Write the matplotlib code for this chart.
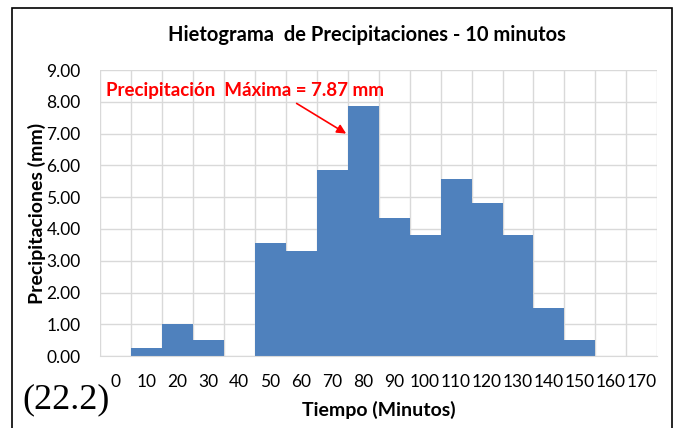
import matplotlib.pyplot as plt
from matplotlib.patches import Rectangle

tiempos = [0, 10, 20, 30, 40, 50, 60, 70, 80, 90, 100, 110, 120, 130, 140, 150, 160, 170]
precip = [0, 0.27, 1.00, 0.52, 0, 3.55, 3.30, 5.86, 7.87, 4.34, 3.82, 5.58, 4.81, 3.82, 1.51, 0.52, 0, 0]
yticks = [0, 1, 2, 3, 4, 5, 6, 7, 8, 9]

plt.rcParams['font.family'] = ['Lato', 'DejaVu Sans']

fig = plt.figure(figsize=(6.78, 4.28), dpi=100)
ax = fig.add_axes([0.1475, 0.168, 0.822, 0.6684])

pos = list(range(len(tiempos)))
ax.bar(pos, precip, width=1.0, color="#4f81bd", zorder=2)
ax.set_xlim(-0.5, len(tiempos) - 0.5)
ax.set_ylim(0, 9)
ax.set_yticks(yticks)
ax.set_yticklabels([f"{v:.2f}" for v in yticks], fontsize=12.5)
ax.set_xticks(pos)
ax.set_xticklabels([str(t) for t in tiempos], fontsize=12.5)
ax.set_xticks([p - 0.5 for p in pos] + [len(pos) - 0.5], minor=True)
ax.tick_params(axis="x", length=0, pad=13)
ax.tick_params(axis="y", length=0, pad=14)
ax.tick_params(which="minor", length=0)
ax.grid(axis="y", color="#d9d9d9", lw=1, zorder=0)
ax.grid(axis="x", which="minor", color="#d9d9d9", lw=1, zorder=0)
for s in ["top", "right", "left"]:
    ax.spines[s].set_visible(False)
ax.spines["bottom"].set_color("#d9d9d9")

fig.text(367 / 678, 1 - 35 / 428, "Hietograma  de Precipitaciones - 10 minutos", fontsize=14.5,
         fontweight="bold", ha="center", va="center")
ax.set_ylabel("Precipitaciones (mm)", fontsize=14, fontweight="bold", labelpad=0)
ax.set_xlabel("Tiempo (Minutos)", fontsize=14, fontweight="bold", labelpad=8)

imax = precip.index(max(precip))
ax.annotate(f"Precipitación  Máxima = {max(precip):.2f} mm", xy=(imax - 0.55, 7.0), xytext=(-0.3, 8.35),
            color="red", fontsize=13.5, fontweight="bold", va="center", ha="left",
            arrowprops=dict(arrowstyle="-|>", color="red", lw=1.2, shrinkA=2, shrinkB=0,
                            relpos=(0.66, 0.0)))

fig.text(22 / 678, 1 - 408 / 428, "(22.2)", family="Liberation Serif", fontsize=26)
fig.patches.append(Rectangle((12 / 678, -0.05), 660 / 678, 1.0 - 8 / 428 + 0.05, transform=fig.transFigure,
                             fill=False, edgecolor="black", lw=1.2, clip_on=False))

fig.savefig("out.png", dpi=100)
